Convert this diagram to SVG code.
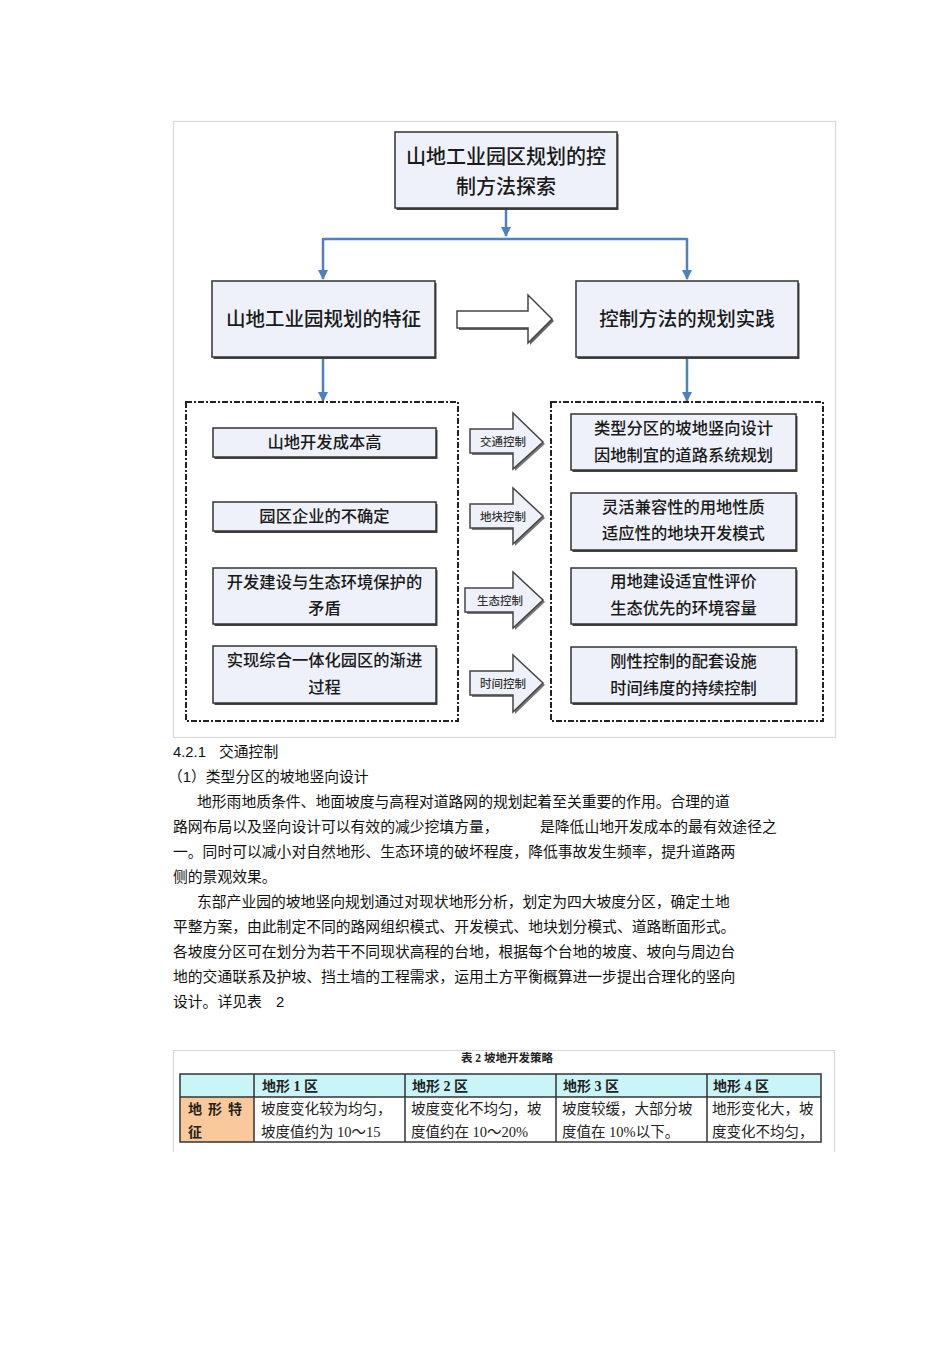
<svg xmlns="http://www.w3.org/2000/svg" width="950" height="1345" viewBox="0 0 950 1345">
<defs>
<marker id="ah" viewBox="0 0 10 10" refX="9" refY="5" markerWidth="4" markerHeight="4" orient="auto" markerUnits="strokeWidth">
<path d="M0,0 L10,5 L0,10 z" fill="#4f81bd"/>
</marker>
</defs>
<style>
.frame{fill:none;stroke:#d9d9d9;stroke-width:1.2}
.box{fill:#eef1f9;stroke:#333;stroke-width:1.5}
.sh{fill:#444}
.dash{fill:none;stroke:#222;stroke-width:2;stroke-dasharray:6 2 2 2}
.conn{fill:none;stroke:#4f81bd;stroke-width:2.5}
.bt{font-family:"Liberation Serif","Noto Sans CJK SC",serif;font-weight:500;fill:#1a1a1a;text-anchor:middle}
.arr{fill:#eef1f9;stroke:#444;stroke-width:1.5;stroke-linejoin:miter}
.al{font-family:"Noto Sans CJK SC",sans-serif;font-size:11.5px;font-weight:500;fill:#333;text-anchor:middle}
.p{font-family:"Liberation Sans","Noto Sans CJK SC",sans-serif;font-size:14.8px;fill:#111}
.tt{font-family:"Liberation Serif","Noto Sans CJK SC",serif;fill:#222}
.tb{stroke:#333;stroke-width:1.5}
</style>
<rect width="950" height="1345" fill="#fff"/>

<rect class="frame" x="173.5" y="121.5" width="662" height="616"/>

<g id="connectors">
<path class="conn" d="M506 208 V236" marker-end="url(#ah)"/>
<path class="conn" d="M323 239 H687"/>
<path class="conn" d="M323 238 V279" marker-end="url(#ah)"/>
<path class="conn" d="M687 238 V279" marker-end="url(#ah)"/>
<path class="conn" d="M323 358 V401" marker-end="url(#ah)"/>
<path class="conn" d="M687 358 V401" marker-end="url(#ah)"/>
</g>

<g id="top">
<rect class="sh" x="396.5" y="134" width="222" height="76"/>
<rect class="box" x="395" y="132" width="222" height="76"/>
<text class="bt" x="506" y="164" font-size="20">山地工业园区规划的控</text>
<text class="bt" x="506" y="194" font-size="20">制方法探索</text>
</g>

<g id="features">
<rect class="sh" x="213.5" y="283" width="223" height="76"/>
<rect class="box" x="212" y="281" width="223" height="76"/>
<text class="bt" x="323.5" y="326" font-size="19.5">山地工业园规划的特征</text>
</g>

<g id="practice">
<rect class="sh" x="577.5" y="283" width="222" height="76"/>
<rect class="box" x="576" y="281" width="222" height="76"/>
<text class="bt" x="687" y="326" font-size="19.5">控制方法的规划实践</text>
</g>

<g id="bigarrow">
<polygon points="459,313 530,313 530,297 554,321 530,345 530,330 459,330" fill="#666"/>
<polygon class="arr" points="457,311 528,311 528,295 552,319 528,343 528,328 457,328" style="fill:#fff"/>
</g>

<g id="leftgroup">
<rect class="dash" x="186" y="402" width="272" height="319"/>
<g id="l1">
<rect class="sh" x="214.5" y="430" width="223" height="29"/>
<rect class="box" x="213" y="428" width="223" height="29"/>
<text class="bt" x="324.5" y="448" font-size="16.3">山地开发成本高</text>
</g>
<g id="l2">
<rect class="sh" x="214.5" y="504" width="223" height="29"/>
<rect class="box" x="213" y="502" width="223" height="29"/>
<text class="bt" x="324.5" y="522" font-size="16.3">园区企业的不确定</text>
</g>
<g id="l3">
<rect class="sh" x="214.5" y="570" width="223" height="56"/>
<rect class="box" x="213" y="568" width="223" height="56"/>
<text class="bt" x="324.5" y="588" font-size="16.3">开发建设与生态环境保护的</text>
<text class="bt" x="324.5" y="614" font-size="16.3">矛盾</text>
</g>
<g id="l4">
<rect class="sh" x="214.5" y="648" width="223" height="57"/>
<rect class="box" x="213" y="646" width="223" height="57"/>
<text class="bt" x="324.5" y="666" font-size="16.3">实现综合一体化园区的渐进</text>
<text class="bt" x="324.5" y="693" font-size="16.3">过程</text>
</g>
</g>

<g id="rightgroup">
<rect class="dash" x="551" y="402" width="272" height="319"/>
<g id="r1">
<rect class="sh" x="572.5" y="416" width="225" height="56"/>
<rect class="box" x="571" y="414" width="225" height="56"/>
<text class="bt" x="683.5" y="434" font-size="16.3">类型分区的坡地竖向设计</text>
<text class="bt" x="683.5" y="461" font-size="16.3">因地制宜的道路系统规划</text>
</g>
<g id="r2">
<rect class="sh" x="572.5" y="495" width="225" height="57"/>
<rect class="box" x="571" y="493" width="225" height="57"/>
<text class="bt" x="683.5" y="513" font-size="16.3">灵活兼容性的用地性质</text>
<text class="bt" x="683.5" y="539" font-size="16.3">适应性的地块开发模式</text>
</g>
<g id="r3">
<rect class="sh" x="572.5" y="570" width="225" height="56"/>
<rect class="box" x="571" y="568" width="225" height="56"/>
<text class="bt" x="683.5" y="587" font-size="16.3">用地建设适宜性评价</text>
<text class="bt" x="683.5" y="614" font-size="16.3">生态优先的环境容量</text>
</g>
<g id="r4">
<rect class="sh" x="572.5" y="649" width="225" height="56"/>
<rect class="box" x="571" y="647" width="225" height="56"/>
<text class="bt" x="683.5" y="667" font-size="16.3">刚性控制的配套设施</text>
<text class="bt" x="683.5" y="694" font-size="16.3">时间纬度的持续控制</text>
</g>
</g>

<g id="a1">
<polygon points="472,431 515,431 515,415 545,444 515,471 515,455 472,455" fill="#777"/>
<polygon class="arr" points="470,429 513,429 513,413 543,442 513,469 513,453 470,453"/>
<text class="al" x="503" y="446">交通控制</text>
</g>
<g id="a2">
<polygon points="472,506 515,506 515,490 545,518 515,546 515,530 472,530" fill="#777"/>
<polygon class="arr" points="470,504 513,504 513,488 543,516 513,544 513,528 470,528"/>
<text class="al" x="503" y="521">地块控制</text>
</g>
<g id="a3">
<polygon points="467,590 515,590 515,574 545,602 515,630 515,614 467,614" fill="#777"/>
<polygon class="arr" points="465,588 513,588 513,572 543,600 513,628 513,612 465,612"/>
<text class="al" x="500" y="605">生态控制</text>
</g>
<g id="a4">
<polygon points="472,673 515,673 515,657 545,685 515,714 515,697 472,697" fill="#777"/>
<polygon class="arr" points="470,671 513,671 513,655 543,683 513,712 513,695 470,695"/>
<text class="al" x="503" y="688">时间控制</text>
</g>

<g id="body">
<text class="p" x="173" y="757">4.2.1</text>
<text class="p" x="219" y="757">交通控制</text>
<text class="p" x="168" y="782">（1）类型分区的坡地竖向设计</text>
<text class="p" x="197" y="807">地形雨地质条件、地面坡度与高程对道路网的规划起着至关重要的作用。合理的道</text>
<text class="p" x="173" y="832">路网布局以及竖向设计可以有效的减少挖填方量，</text>
<text class="p" x="540" y="832">是降低山地开发成本的最有效途径之</text>
<text class="p" x="173" y="857">一。同时可以减小对自然地形、生态环境的破坏程度，降低事故发生频率，提升道路两</text>
<text class="p" x="173" y="882">侧的景观效果。</text>
<text class="p" x="197" y="907">东部产业园的坡地竖向规划通过对现状地形分析，划定为四大坡度分区，确定土地</text>
<text class="p" x="173" y="932">平整方案，由此制定不同的路网组织模式、开发模式、地块划分模式、道路断面形式。</text>
<text class="p" x="173" y="957">各坡度分区可在划分为若干不同现状高程的台地，根据每个台地的坡度、坡向与周边台</text>
<text class="p" x="173" y="982">地的交通联系及护坡、挡土墙的工程需求，运用土方平衡概算进一步提出合理化的竖向</text>
<text class="p" x="173" y="1007">设计。详见表</text>
<text class="p" x="276" y="1007">2</text>
</g>

<g id="table">
<path d="M173.5 1152 V1050.5 H834.5 V1152" fill="none" stroke="#d9d9d9" stroke-width="1.2"/>
<text class="tt" x="507" y="1062" font-size="11.5" font-weight="bold" text-anchor="middle">表 2  坡地开发策略</text>
<rect x="180" y="1074" width="641" height="23" fill="#c9f4f8"/>
<rect x="180" y="1097" width="74" height="45" fill="#f9c89b"/>
<rect x="180" y="1074" width="641" height="68" fill="none" class="tb"/>
<line class="tb" x1="180" y1="1097" x2="821" y2="1097"/>
<line class="tb" x1="254" y1="1074" x2="254" y2="1142"/>
<line class="tb" x1="405" y1="1074" x2="405" y2="1142"/>
<line class="tb" x1="556" y1="1074" x2="556" y2="1142"/>
<line class="tb" x1="707" y1="1074" x2="707" y2="1142"/>
<text class="tt" x="262" y="1091" font-size="14" font-weight="bold">地形 1 区</text>
<text class="tt" x="412" y="1091" font-size="14" font-weight="bold">地形 2 区</text>
<text class="tt" x="563" y="1091" font-size="14" font-weight="bold">地形 3 区</text>
<text class="tt" x="713" y="1091" font-size="14" font-weight="bold">地形 4 区</text>
<text class="tt" x="188" y="1114" font-size="14" font-weight="bold" letter-spacing="6">地形特</text>
<text class="tt" x="188" y="1137" font-size="14" font-weight="bold">征</text>
<text class="tt" x="261" y="1114" font-size="14.5" fill="#444">坡度变化较为均匀，</text>
<text class="tt" x="261" y="1137" font-size="14.5" fill="#444">坡度值约为  10～15</text>
<text class="tt" x="411" y="1114" font-size="14.5" fill="#444">坡度变化不均匀，坡</text>
<text class="tt" x="411" y="1137" font-size="14.5" fill="#444">度值约在  10～20%</text>
<text class="tt" x="562" y="1114" font-size="14.5" fill="#444">坡度较缓，大部分坡</text>
<text class="tt" x="562" y="1137" font-size="14.5" fill="#444">度值在 10%以下。</text>
<text class="tt" x="712" y="1114" font-size="14.5" fill="#444">地形变化大，坡</text>
<text class="tt" x="712" y="1137" font-size="14.5" fill="#444">度变化不均匀，</text>
</g>
</svg>
